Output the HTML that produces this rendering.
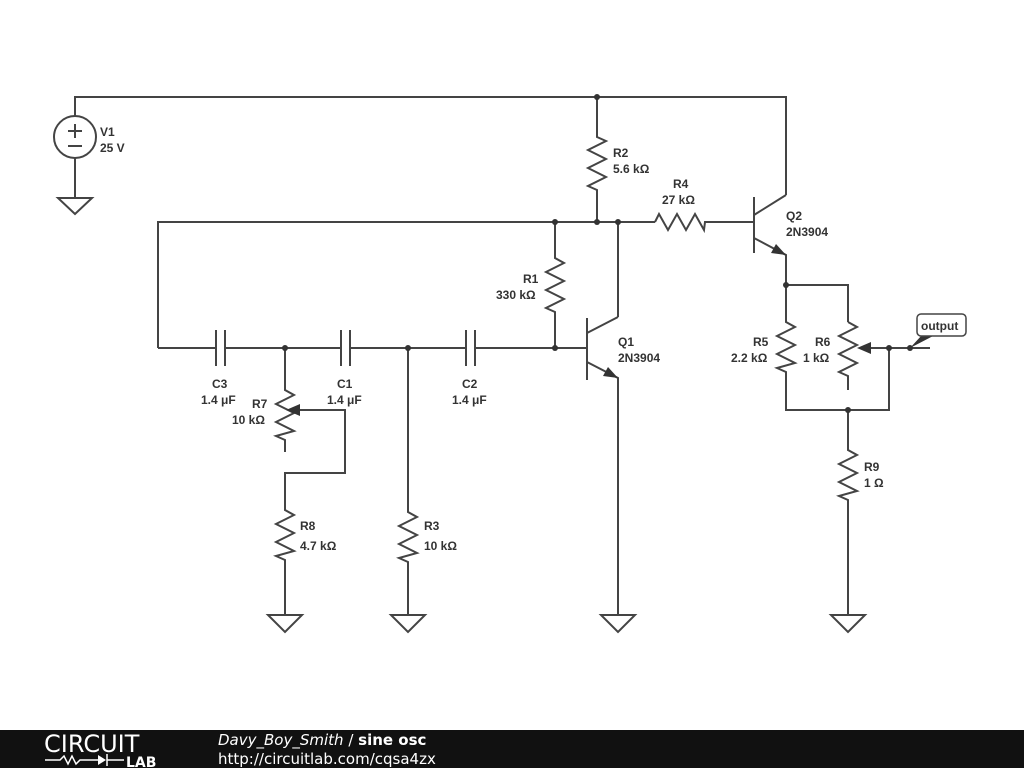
<!DOCTYPE html>
<html><head><meta charset="utf-8"><style>
body{margin:0;width:1024px;height:768px;background:#fff;overflow:hidden}
svg{display:block}
text{font-family:"Liberation Sans",sans-serif;font-size:12px;font-weight:bold;fill:#333}
</style></head><body>
<svg width="1024" height="768" viewBox="0 0 1024 768">
<g stroke="#444" stroke-width="2" fill="none" stroke-linejoin="miter">
<polyline points="75,117 75,97 786,97 786,195"/>
<circle cx="75" cy="137" r="21"/>
<line x1="68" y1="131" x2="82" y2="131"/><line x1="75" y1="124" x2="75" y2="138"/>
<line x1="68" y1="146" x2="82" y2="146"/>
<line x1="75" y1="158" x2="75" y2="198"/>
<polygon points="58,198 92,198 75,214"/>
<polyline points="597,97 597,137 606,141 588,150 606,159 588,168 606,177 588,186 597,190 597,222"/>
<polyline points="158,348 158,222 655,222"/>
<polyline points="655,222 659,214 668,230 677,214 686,230 695,214 704,230 705,222 754,222"/>
<line x1="754" y1="197" x2="754" y2="253"/>
<polyline points="754,215 786,195"/>
<polyline points="754,238 786,255 786,285 848,285 848,322"/>
<polyline points="848,322 857,327 839,336 857,345 839,354 857,363 839,372 848,376 848,390"/>
<polyline points="786,285 786,322 795,327 777,336 795,345 777,354 795,363 777,368 786,372 786,410 889,410 889,348 930,348"/>
<line x1="889" y1="348" x2="868" y2="348"/>
<polyline points="848,410 848,450 857,455 839,464 857,473 839,482 857,491 839,496 848,500 848,615"/>
<polygon points="831,615 865,615 848,632"/>
<line x1="618" y1="222" x2="618" y2="317"/>
<polyline points="587,333 618,317"/>
<line x1="587" y1="318" x2="587" y2="380"/>
<polyline points="587,362 618,378 618,615"/>
<polygon points="601,615 635,615 618,632"/>
<polyline points="555,222 555,258 564,263 546,272 564,281 546,290 564,299 546,308 555,312 555,348"/>
<line x1="158" y1="348" x2="216" y2="348"/>
<line x1="216" y1="330" x2="216" y2="366"/><line x1="225" y1="330" x2="225" y2="366"/>
<line x1="225" y1="348" x2="341" y2="348"/>
<line x1="341" y1="330" x2="341" y2="366"/><line x1="350" y1="330" x2="350" y2="366"/>
<line x1="350" y1="348" x2="466" y2="348"/>
<line x1="466" y1="330" x2="466" y2="366"/><line x1="475" y1="330" x2="475" y2="366"/>
<line x1="475" y1="348" x2="587" y2="348"/>
<polyline points="285,348 285,390 294,395 276,404 294,413 276,422 294,431 276,436 285,440 285,452"/>
<polyline points="300,410 345,410 345,473 285,473 285,510 294,515 276,524 294,533 276,542 294,551 276,556 285,560 285,615"/>
<polygon points="268,615 302,615 285,632"/>
<polyline points="408,348 408,512 417,517 399,526 417,535 399,544 417,553 399,558 408,562 408,615"/>
<polygon points="391,615 425,615 408,632"/>
</g>
<g fill="#333">
<polygon points="618,378 603,376 608,367"/>
<polygon points="786,255 771,253 776,244"/>
<polygon points="286,410 300,404 300,416"/>
<polygon points="857,348 871,342 871,354"/>
<circle cx="597" cy="97" r="3"/><circle cx="597" cy="222" r="3"/><circle cx="555" cy="222" r="3"/><circle cx="618" cy="222" r="3"/>
<circle cx="285" cy="348" r="3"/><circle cx="408" cy="348" r="3"/><circle cx="555" cy="348" r="3"/>
<circle cx="786" cy="285" r="3"/><circle cx="848" cy="410" r="3"/><circle cx="889" cy="348" r="3"/><circle cx="910" cy="348" r="3"/>
<polygon points="910,348 922,335 935,335"/>
</g>
<rect x="917" y="314" width="49" height="22" rx="4" fill="#fff" stroke="#444" stroke-width="1.5"/>
<text x="921" y="330">output</text>
<text x="100" y="136">V1</text><text x="100" y="152">25 V</text>
<text x="613" y="157">R2</text><text x="613" y="173">5.6 kΩ</text>
<text x="673" y="188">R4</text><text x="662" y="204">27 kΩ</text>
<text x="786" y="220">Q2</text><text x="786" y="236">2N3904</text>
<text x="523" y="283">R1</text><text x="496" y="299">330 kΩ</text>
<text x="618" y="346">Q1</text><text x="618" y="362">2N3904</text>
<text x="753" y="346">R5</text><text x="731" y="362">2.2 kΩ</text>
<text x="815" y="346">R6</text><text x="803" y="362">1 kΩ</text>
<text x="864" y="471">R9</text><text x="864" y="487">1 Ω</text>
<text x="212" y="388">C3</text><text x="201" y="404">1.4 μF</text>
<text x="337" y="388">C1</text><text x="327" y="404">1.4 μF</text>
<text x="462" y="388">C2</text><text x="452" y="404">1.4 μF</text>
<text x="252" y="408">R7</text><text x="232" y="424">10 kΩ</text>
<text x="300" y="530">R8</text><text x="300" y="550">4.7 kΩ</text>
<text x="424" y="530">R3</text><text x="424" y="550">10 kΩ</text>
<rect x="0" y="730" width="1024" height="38" fill="#111"/>
<text x="44" y="752" style="font-family:'DejaVu Sans',sans-serif;font-size:24px;font-weight:normal;fill:#fff;letter-spacing:0px">CIRCUIT</text>
<text x="126" y="767" style="font-family:'DejaVu Sans',sans-serif;font-size:14px;font-weight:bold;fill:#fff">LAB</text>
<polyline points="45,760 60,760 64,756 68,764 72,756 76,764 80,760 98,760" stroke="#fff" stroke-width="1.5" fill="none"/>
<polygon points="98,755 98,765 106,760" fill="#fff"/><line x1="107" y1="754" x2="107" y2="766" stroke="#fff" stroke-width="1.5"/>
<line x1="107" y1="760" x2="124" y2="760" stroke="#fff" stroke-width="1.5"/>
<text x="218" y="745" style="font-family:'DejaVu Sans',sans-serif;font-size:15px;font-weight:normal;font-style:italic;fill:#fff">Davy_Boy_Smith <tspan font-style="normal">/</tspan> <tspan font-weight="bold" font-style="normal">sine osc</tspan></text>
<text x="218" y="764" style="font-family:'DejaVu Sans',sans-serif;font-size:15px;font-weight:normal;fill:#fff">http://circuitlab.com/cqsa4zx</text>
</svg>
</body></html>
